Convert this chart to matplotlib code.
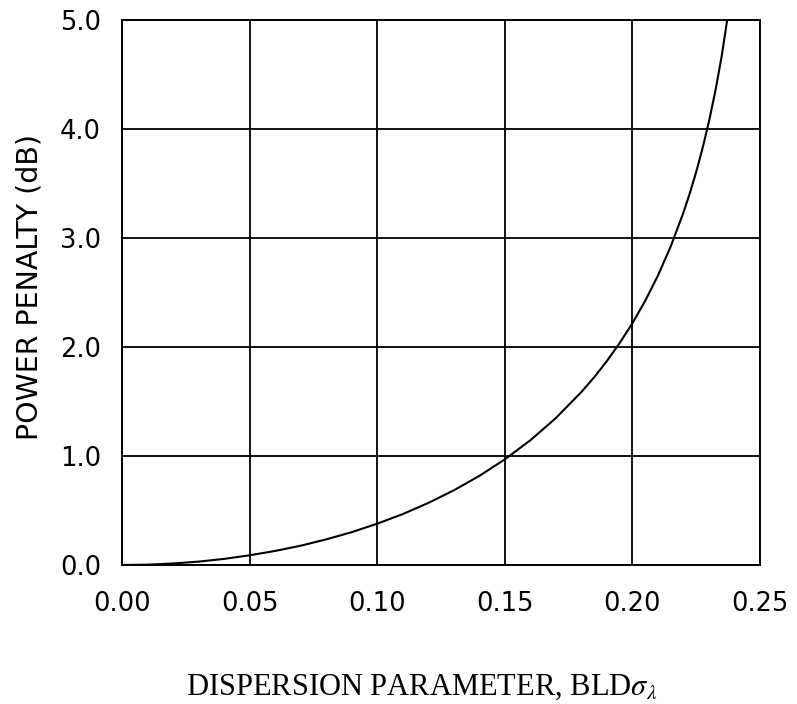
import matplotlib
matplotlib.use("Agg")
import matplotlib.pyplot as plt

# Curve
dispersion = [0.000, 0.010, 0.020, 0.030, 0.040, 0.050, 0.060, 0.070, 0.080, 0.090,
              0.100, 0.110, 0.120, 0.130, 0.140, 0.150, 0.160, 0.170, 0.180, 0.185,
              0.190, 0.195, 0.200, 0.205, 0.210, 0.215, 0.220, 0.2225, 0.225, 0.2275,
              0.230, 0.2325, 0.235, 0.2375]
penalty = [0.000, 0.003, 0.014, 0.031, 0.056, 0.089, 0.129, 0.177, 0.235, 0.301,
           0.379, 0.467, 0.569, 0.685, 0.817, 0.969, 1.144, 1.348, 1.587, 1.722,
           1.871, 2.036, 2.218, 2.423, 2.655, 2.922, 3.233, 3.411, 3.606, 3.824,
           4.068, 4.347, 4.670, 5.055]

x_ticks = [0.00, 0.05, 0.10, 0.15, 0.20, 0.25]
x_tick_labels = ["0.00", "0.05", "0.10", "0.15", "0.20", "0.25"]
y_ticks = [0.0, 1.0, 2.0, 3.0, 4.0, 5.0]
y_tick_labels = ["0.0", "1.0", "2.0", "3.0", "4.0", "5.0"]

plt.rcParams["mathtext.fontset"] = "stix"

fig = plt.figure(figsize=(7.97, 7.04), dpi=100)
ax = fig.add_axes([122 / 797, 1 - 565 / 704, (760 - 122) / 797, (565 - 20) / 704])

ax.plot(dispersion, penalty, color="black", lw=1.5, clip_on=True)

ax.set_xlim(0, 0.25)
ax.set_ylim(0, 5.0)
ax.set_xticks(x_ticks)
ax.set_xticklabels(x_tick_labels)
ax.set_yticks(y_ticks)
ax.set_yticklabels(y_tick_labels)
ax.grid(True, color="black", lw=1.3)
ax.set_axisbelow(True)
for s in ax.spines.values():
    s.set_linewidth(1.4)
    s.set_color("black")

ax.tick_params(axis="x", length=0, pad=19, labelsize=18.5)
ax.tick_params(axis="y", length=0, pad=15, labelsize=18.5)

fig.text(30 / 797, 1 - 287 / 704, "POWER PENALTY (dB)", rotation=90,
         ha="center", va="center", fontsize=20.5, family="DejaVu Sans")
fig.text(422 / 797, 1 - 695 / 704, r"DISPERSION PARAMETER, BLD$\sigma_\lambda$",
         ha="center", va="baseline", fontsize=22, family="Liberation Serif")

fig.savefig("out.png", dpi=100)
